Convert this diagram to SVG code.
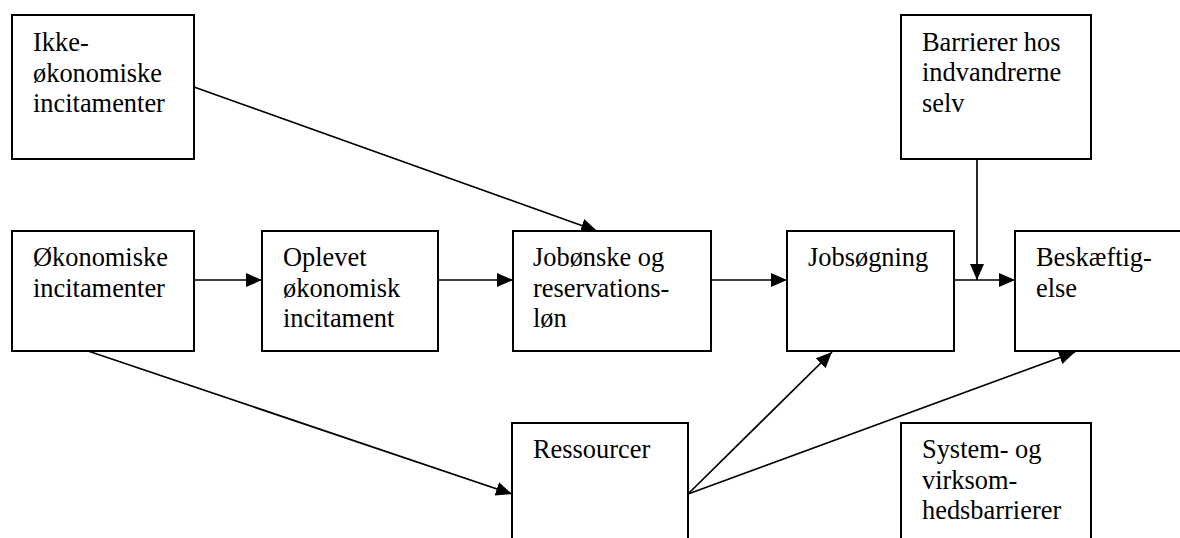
<svg xmlns="http://www.w3.org/2000/svg" width="1180" height="538" viewBox="0 0 1180 538">
<style>
.box{fill:#fff;stroke:#000;stroke-width:2}
.t{font-family:"Liberation Serif","Times New Roman",serif;font-size:26.4px;fill:#000}
.c{stroke:#000;stroke-width:1.7;fill:none;marker-end:url(#ah)}
</style>
<defs>
<marker id="ah" markerUnits="userSpaceOnUse" markerWidth="17" markerHeight="15" refX="16" refY="7" orient="auto">
<path d="M0,0 L16,7 L0,14 z" fill="#000"/>
</marker>
</defs>
<rect width="1180" height="538" fill="#fff"/>
<g id="connectors">
<line class="c" x1="194" y1="87" x2="597" y2="231"/>
<line class="c" x1="194" y1="280" x2="262" y2="280"/>
<line class="c" x1="438" y1="280" x2="513" y2="280"/>
<line class="c" x1="711" y1="280" x2="787" y2="280"/>
<line class="c" x1="954" y1="280" x2="1015" y2="280"/>
<line class="c" x1="977" y1="159" x2="977" y2="280"/>
<line class="c" x1="88" y1="351" x2="512" y2="494"/>
<line class="c" x1="688" y1="494" x2="832" y2="352"/>
<line class="c" x1="688" y1="494" x2="1075" y2="352"/>
</g>
<g id="ikke-okonomiske">
<rect class="box" x="12" y="15" width="182" height="144"/>
<text class="t" x="33" y="51">Ikke-</text>
<text class="t" x="33" y="81.5">økonomiske</text>
<text class="t" x="33" y="112">incitamenter</text>
</g>
<g id="barrierer">
<rect class="box" x="901" y="15" width="190" height="144"/>
<text class="t" x="922" y="50.5">Barrierer hos</text>
<text class="t" x="922" y="81">indvandrerne</text>
<text class="t" x="922" y="111.5">selv</text>
</g>
<g id="okonomiske">
<rect class="box" x="12" y="231" width="182" height="120"/>
<text class="t" x="33" y="266">Økonomiske</text>
<text class="t" x="33" y="296.5">incitamenter</text>
</g>
<g id="oplevet">
<rect class="box" x="262" y="231" width="176" height="120"/>
<text class="t" x="283" y="266">Oplevet</text>
<text class="t" x="283" y="296.5">økonomisk</text>
<text class="t" x="283" y="327">incitament</text>
</g>
<g id="jobonske">
<rect class="box" x="513" y="231" width="198" height="120"/>
<text class="t" x="533" y="266">Jobønske og</text>
<text class="t" x="533" y="296.5">reservations-</text>
<text class="t" x="533" y="327">løn</text>
</g>
<g id="jobsogning">
<rect class="box" x="787" y="231" width="167" height="120"/>
<text class="t" x="808" y="266">Jobsøgning</text>
</g>
<g id="beskaeftigelse">
<rect class="box" x="1015" y="231" width="200" height="120"/>
<text class="t" x="1036" y="266">Beskæftig-</text>
<text class="t" x="1036" y="296.5">else</text>
</g>
<g id="ressourcer">
<rect class="box" x="512" y="423" width="176" height="130"/>
<text class="t" x="533" y="458">Ressourcer</text>
</g>
<g id="system">
<rect class="box" x="901" y="423" width="190" height="130"/>
<text class="t" x="922" y="458">System- og</text>
<text class="t" x="922" y="488.5">virksom-</text>
<text class="t" x="922" y="519">hedsbarrierer</text>
</g>
</svg>
